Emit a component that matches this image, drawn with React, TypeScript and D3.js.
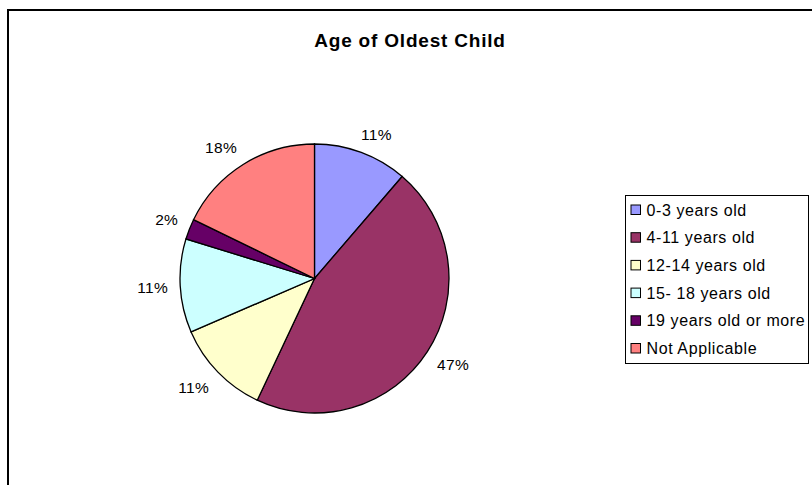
import React from "react";
import * as d3 from "d3";

const categories = [
  "0-3 years old",
  "4-11 years old",
  "12-14 years old",
  "15- 18 years old",
  "19 years old or more",
  "Not Applicable",
];
const values = [11.3, 45.7, 11.5, 11.25, 2.45, 17.8];
const pctLabels = ["11%", "47%", "11%", "11%", "2%", "18%"];
const colors = ["#9999FF", "#993366", "#FFFFCC", "#CCFFFF", "#660066", "#FF8080"];
const title = "Age of Oldest Child";

const W = 812;
const H = 485;
const cx = 314.5;
const cy = 278.5;
const R = 134.5;
const FONT = "'Liberation Sans', Arial, sans-serif";

export default function App() {
  const pie = d3
    .pie<number>()
    .sort(null)
    .value((d) => d)
    .startAngle(0)
    .endAngle(2 * Math.PI);
  const arcs = pie(values);
  const arc = d3.arc<d3.PieArcDatum<number>>().innerRadius(0).outerRadius(R);
  const anchorR = R + 11.5;
  const clamp = (v: number) => Math.max(-1, Math.min(1, v));

  return (
    <svg
      width={W}
      height={H}
      style={{ position: "absolute", left: 0, top: 0, background: "#fff" }}
      fontFamily={FONT}
    >
      <rect x={8} y={10} width={900} height={600} fill="#fff" stroke="#000" strokeWidth={2} />
      <text
        x={410}
        y={46.5}
        textAnchor="middle"
        fontSize={19}
        fontWeight="bold"
        letterSpacing={0.8}
        fill="#000"
      >
        {title}
      </text>
      <g transform={`translate(${cx},${cy})`}>
        {arcs.map((a, i) => (
          <path key={i} d={arc(a) || ""} fill={colors[i]} stroke="#000" strokeWidth={1.3} />
        ))}
        {arcs.map((a, i) => {
          const mid = (a.startAngle + a.endAngle) / 2;
          const sx = Math.sin(mid);
          const sy = -Math.cos(mid);
          const w = pctLabels[i].length * 8 + 8;
          const h = 14;
          const x = sx * anchorR + (w / 2) * clamp(sx * 2);
          const y = sy * anchorR + (h / 2) * clamp(sy * 2);
          return (
            <text
              key={i}
              x={x}
              y={y + 5.5}
              textAnchor="middle"
              fontSize={15.5}
              letterSpacing={0.3}
              fill="#000"
            >
              {pctLabels[i]}
            </text>
          );
        })}
      </g>
      <g>
        <rect x={625.5} y={195.5} width={183} height={168} fill="#fff" stroke="#000" strokeWidth={1} />
        {categories.map((c, i) => (
          <g key={c} transform={`translate(0,${i * 27.7})`}>
            <rect x={631} y={205} width={9.5} height={9.5} fill={colors[i]} stroke="#000" strokeWidth={1} />
            <text x={646.5} y={215.5} fontSize={16} letterSpacing={0.6} fill="#000">
              {c}
            </text>
          </g>
        ))}
      </g>
    </svg>
  );
}
